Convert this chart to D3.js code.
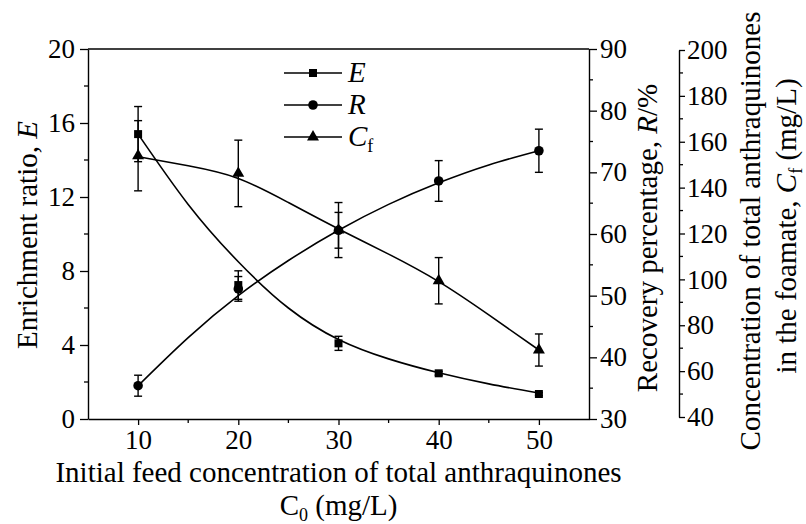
<!DOCTYPE html>
<html>
<head>
<meta charset="utf-8">
<script src="https://cdn.jsdelivr.net/npm/d3@7/dist/d3.min.js"></script>
<style>
  html, body { margin: 0; padding: 0; background: #fff; }
  svg { display: block; }
  text { font-family: "Liberation Serif", "Times New Roman", serif; fill: #000; }
</style>
</head>
<body>
<svg id="chart" width="806" height="524"></svg>
<script>
// ---- data ----
const feedConc = [10, 20, 30, 40, 50];                  // C0 (mg/L)
const enrichment = [15.4, 7.24, 4.09, 2.47, 1.35];     // E
const enrichmentErr = [1.49, 0.77, 0.38, 0.10, 0.08];
const recovery = [35.4, 51.1, 60.6, 68.6, 73.5];       // R (%)
const recoveryErr = [1.7, 2.0, 2.9, 3.3, 3.5];
const foamConc = [153.9, 146.2, 121.5, 99.4, 69.2];    // Cf (mg/L)
const foamConcErr = [15.3, 14.5, 12.0, 10.1, 7.0];

// fitted curves as drawn in the figure
const fitX = [10, 15, 20, 25, 30, 35, 40, 45, 50];
const fitE = [15.4, 11.6, 8.5, 6.0, 4.3, 3.25, 2.5, 1.9, 1.4];
const fitR = [35.4, 43.2, 50.0, 55.7, 60.6, 64.8, 68.3, 71.2, 73.5];
const fitCf = [153.5, 149.5, 144.0, 133.5, 122.0, 111.0, 99.0, 84.5, 69.2];

const xTicks = [10, 20, 30, 40, 50];
const eTicks = [0, 4, 8, 12, 16, 20];
const rTicks = [30, 40, 50, 60, 70, 80, 90];
const cfTicks = [40, 60, 80, 100, 120, 140, 160, 180, 200];

const legendItems = ["E", "R", "Cf"];

// ---- layout ----
const svg = d3.select("#chart");
const L = 88, R = 589, T = 49, B = 419;
const x = d3.scaleLinear().domain([5, 55]).range([L, R]);
const yE = d3.scaleLinear().domain([0, 20]).range([B, T]);
const yR = d3.scaleLinear().domain([30, 90]).range([B, T]);
const yC = d3.scaleLinear().domain([40, 200]).range([417, 50]);
const axisX3 = 679;
const FS = 27;   // tick labels
const TS = 29;   // titles
const SUB = 18;  // subscripts

function styleAxis(g) {
  g.attr("font-family", null);
  g.selectAll("path.domain").attr("stroke", "#000").attr("stroke-width", 1.4);
  g.selectAll(".tick line").attr("stroke", "#000").attr("stroke-width", 1.3);
  g.selectAll(".tick text").style("font-family", '"Liberation Serif", "Times New Roman", serif').style("font-size", FS + "px").attr("fill", "#000");
}
function minor(g, scale, vals, orient, len) {
  vals.forEach(v => {
    const p = scale(v);
    const l = g.append("line").attr("stroke", "#000").attr("stroke-width", 1.3);
    if (orient === "left") l.attr("x1", 0).attr("x2", -len).attr("y1", p).attr("y2", p);
    if (orient === "right") l.attr("x1", 0).attr("x2", len).attr("y1", p).attr("y2", p);
    if (orient === "bottom") l.attr("y1", 0).attr("y2", len).attr("x1", p).attr("x2", p);
  });
}

// frame top
svg.append("line").attr("x1", L).attr("x2", R).attr("y1", T).attr("y2", T)
  .attr("stroke", "#000").attr("stroke-width", 1.4);

// bottom axis
const gx = svg.append("g").attr("transform", `translate(0,${B})`)
  .call(d3.axisBottom(x).tickValues(xTicks).tickSize(6).tickPadding(5).tickSizeOuter(0));
styleAxis(gx);
minor(gx, x, [15, 25, 35, 45], "bottom", 4);

// left axis (E)
const gl = svg.append("g").attr("transform", `translate(${L},0)`)
  .call(d3.axisLeft(yE).tickValues(eTicks).tickSize(8).tickPadding(5).tickSizeOuter(0));
styleAxis(gl);
minor(gl, yE, [2, 6, 10, 14, 18], "left", 4);

// right axis (R)
const gr = svg.append("g").attr("transform", `translate(${R},0)`)
  .call(d3.axisRight(yR).tickValues(rTicks).tickSize(8).tickPadding(3).tickSizeOuter(0));
styleAxis(gr);
minor(gr, yR, [35, 45, 55, 65, 75, 85], "right", 4);

// third axis (Cf)
const gc = svg.append("g").attr("transform", `translate(${axisX3},0)`)
  .call(d3.axisRight(yC).tickValues(cfTicks).tickSize(6).tickPadding(2).tickSizeOuter(0));
styleAxis(gc);
minor(gc, yC, [50, 70, 90, 110, 130, 150, 170, 190], "right", 4);

// ---- curves ----
const curveGen = (ys, scale) => d3.line()
  .x((d, i) => x(fitX[i])).y(d => scale(d)).curve(d3.curveNatural)(ys);
svg.append("path").attr("d", curveGen(fitE, yE)).attr("fill", "none").attr("stroke", "#000").attr("stroke-width", 1.6);
svg.append("path").attr("d", curveGen(fitR, yR)).attr("fill", "none").attr("stroke", "#000").attr("stroke-width", 1.6);
svg.append("path").attr("d", curveGen(fitCf, yC)).attr("fill", "none").attr("stroke", "#000").attr("stroke-width", 1.6);

// ---- error bars ----
function errBars(vals, errs, scale) {
  const g = svg.append("g").attr("stroke", "#000").attr("stroke-width", 1.4);
  vals.forEach((v, i) => {
    const cx = x(feedConc[i]);
    const y1 = scale(v + errs[i]), y2 = scale(v - errs[i]);
    g.append("line").attr("x1", cx).attr("x2", cx).attr("y1", y1).attr("y2", y2);
    g.append("line").attr("x1", cx - 4).attr("x2", cx + 4).attr("y1", y1).attr("y2", y1);
    g.append("line").attr("x1", cx - 4).attr("x2", cx + 4).attr("y1", y2).attr("y2", y2);
  });
}
errBars(enrichment, enrichmentErr, yE);
errBars(recovery, recoveryErr, yR);
errBars(foamConc, foamConcErr, yC);

// ---- markers ----
const sym = {
  E: d3.symbol().type(d3.symbolSquare).size(64),
  R: d3.symbol().type(d3.symbolCircle).size(72),
  Cf: d3.symbol().type(d3.symbolTriangle).size(62)
};
function markers(vals, scale, s) {
  svg.append("g").selectAll("path").data(vals).join("path")
    .attr("d", sym[s]())
    .attr("transform", (d, i) => `translate(${x(feedConc[i])},${scale(d)})`)
    .attr("fill", "#000");
}
markers(enrichment, yE, "E");
markers(recovery, yR, "R");
markers(foamConc, yC, "Cf");

// ---- legend ----
const lg = svg.append("g");
legendItems.forEach((name, i) => {
  const yy = 73 + i * 32;
  lg.append("line").attr("x1", 284).attr("x2", 342).attr("y1", yy).attr("y2", yy)
    .attr("stroke", "#000").attr("stroke-width", 1.6);
  lg.append("path").attr("d", sym[name]()).attr("transform", `translate(313,${yy})`).attr("fill", "#000");
  const t = lg.append("text").attr("x", 348).attr("y", yy + 9).style("font-size", TS + "px");
  if (name === "Cf") {
    t.append("tspan").style("font-style", "italic").text("C");
    t.append("tspan").attr("dy", 6).style("font-size", SUB + "px").text("f");
  } else {
    t.append("tspan").style("font-style", "italic").text(name);
  }
});

// ---- axis titles ----
svg.append("text").attr("x", (L + R) / 2).attr("y", 482).attr("text-anchor", "middle")
  .style("font-size", TS + "px").text("Initial feed concentration of total anthraquinones");
const c0 = svg.append("text").attr("x", (L + R) / 2).attr("y", 515).attr("text-anchor", "middle")
  .style("font-size", TS + "px");
c0.append("tspan").text("C");
c0.append("tspan").attr("dy", 6).style("font-size", SUB + "px").text("0");
c0.append("tspan").attr("dy", -6).text(" (mg/L)");

const tl = svg.append("text").attr("transform", "translate(37,235) rotate(-90)")
  .attr("text-anchor", "middle").style("font-size", TS + "px");
tl.append("tspan").text("Enrichment ratio, ");
tl.append("tspan").style("font-style", "italic").text("E");

const tr = svg.append("text").attr("transform", "translate(657,238) rotate(-90)")
  .attr("text-anchor", "middle").style("font-size", TS + "px");
tr.append("tspan").text("Recovery percentage, ");
tr.append("tspan").style("font-style", "italic").text("R");
tr.append("tspan").text("/%");

svg.append("text").attr("transform", "translate(760,231) rotate(-90)")
  .attr("text-anchor", "middle").style("font-size", TS + "px")
  .text("Concentration of total anthraquinones");
const t3 = svg.append("text").attr("transform", "translate(796,226) rotate(-90)")
  .attr("text-anchor", "middle").style("font-size", TS + "px");
t3.append("tspan").text("in the foamate, ");
t3.append("tspan").style("font-style", "italic").text("C");
t3.append("tspan").attr("dy", 6).style("font-size", SUB + "px").text("f");
t3.append("tspan").attr("dy", -6).text(" (mg/L)");
</script>
</body>
</html>
